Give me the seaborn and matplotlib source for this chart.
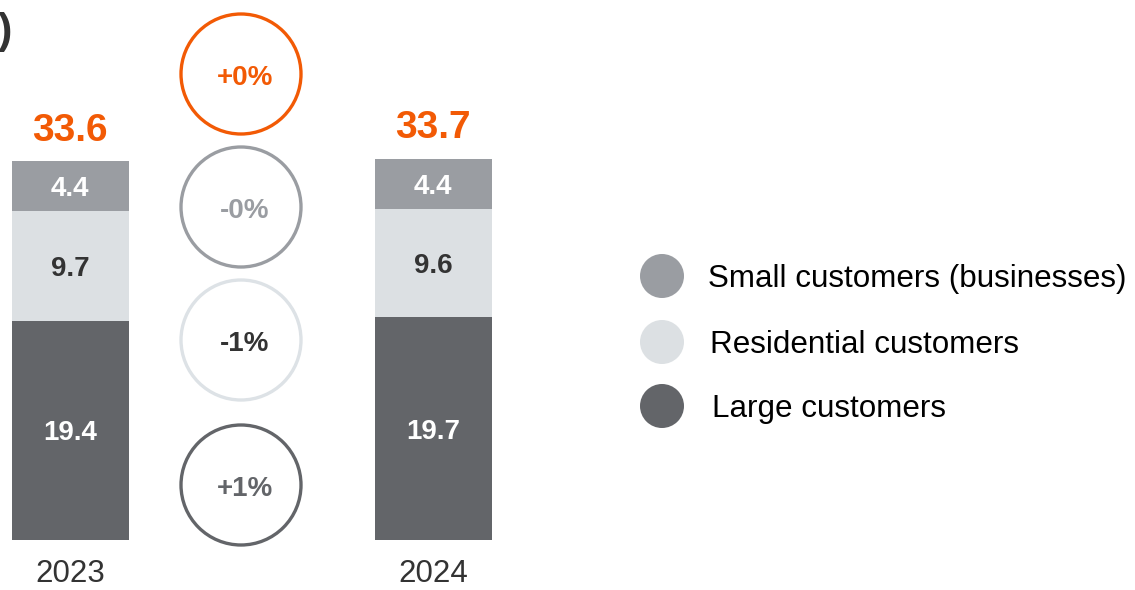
import matplotlib
matplotlib.use("Agg")
import matplotlib.pyplot as plt
from matplotlib.patches import Circle
import numpy as np
import pandas as pd
import seaborn as sns

# Electricity sales by customer segment (TWh)
years = ["2023", "2024"]
small = [4.4, 4.4]
residential = [9.7, 9.6]
large = [19.4, 19.7]
totals = [33.6, 33.7]

segments = ["Small customers (businesses)", "Residential customers", "Large customers"]
changes = ["+0%", "-0%", "-1%", "+1%"]

ORANGE = "#f25a05"
C_SMALL = "#9a9da2"
C_RES = "#dce0e3"
C_LARGE = "#636569"
DARK = "#333333"

sns.set_theme(style="white")
plt.rcParams["font.family"] = ["Liberation Sans", "DejaVu Sans"]

W, H = 1135, 590
fig = plt.figure(figsize=(W / 100, H / 100), dpi=100)

# bar axes: baseline at y=540 px, 11.31 px per TWh, 363 px between bars
px_unit = 380 / 33.6
ax = fig.add_axes([0, 50 / H, 1, 540 / H])
df = pd.DataFrame({"year": years, "small": small, "res": residential, "large": large})
df["cum_res"] = df["large"] + df["res"]
df["cum_all"] = df["cum_res"] + df["small"]

bw = 117 / 363
for col, color in [("cum_all", C_SMALL), ("cum_res", C_RES), ("large", C_LARGE)]:
    sns.barplot(data=df, x="year", y=col, color=color, width=bw, ax=ax,
                saturation=1, linewidth=0, errorbar=None)

ax.set_xlim(-70 / 363, (W - 70) / 363)
ax.set_ylim(0, 540 / px_unit)
ax.set_xlabel("")
ax.set_ylabel("")
ax.set_yticks([])
ax.tick_params(axis="x", length=0, pad=14, labelsize=22.5, labelcolor=DARK)
for s in ax.spines.values():
    s.set_visible(False)
ax.patch.set_alpha(0)

# nudge labels slightly below the geometric centre of each segment
dy = -3 / px_unit
for i in range(len(years)):
    lg, rs, sm = large[i], residential[i], small[i]
    ax.text(i, lg / 2 + dy, f"{lg:.1f}", ha="center", va="center", color="white",
            fontsize=20, fontweight="bold")
    ax.text(i, lg + rs / 2 + dy, f"{rs:.1f}", ha="center", va="center", color=DARK,
            fontsize=20, fontweight="bold")
    ax.text(i, lg + rs + sm / 2 + dy, f"{sm:.1f}", ha="center", va="center", color="white",
            fontsize=20, fontweight="bold")
    ax.annotate(f"{totals[i]:.1f}", (i, lg + rs + sm), xytext=(0, 9),
                textcoords="offset points", ha="center", va="bottom",
                color=ORANGE, fontsize=28, fontweight="bold", annotation_clip=False)

# overlay in pixel coordinates for change circles and legend
ov = fig.add_axes([0, 0, 1, 1])
ov.set_xlim(0, W)
ov.set_ylim(H, 0)
ov.axis("off")
ov.patch.set_alpha(0)

ring_y = [74, 207, 340, 485]
ring_edge = [ORANGE, C_SMALL, "#dde2e6", C_LARGE]
ring_text = [ORANGE, C_SMALL, DARK, C_LARGE]
for lbl, cy, ec, tc in zip(changes, ring_y, ring_edge, ring_text):
    ov.add_patch(Circle((241, cy), 60, facecolor="white", edgecolor=ec, linewidth=2.4))
    ov.text(245, cy + 4, lbl, ha="center", va="center", color=tc,
            fontsize=20, fontweight="bold")

leg_y = [276, 342, 406]
leg_x = [708, 710, 712]
for name, cy, tx, c in zip(segments, leg_y, leg_x, [C_SMALL, C_RES, C_LARGE]):
    ov.add_patch(Circle((662, cy), 22, facecolor=c, edgecolor="none"))
    ov.text(tx, cy + 3, name, ha="left", va="center", color="black", fontsize=22.6)

ov.text(-2, 32, ")", ha="left", va="center", color=DARK, fontsize=31, fontweight="bold")

fig.savefig("out.png", dpi=100)
